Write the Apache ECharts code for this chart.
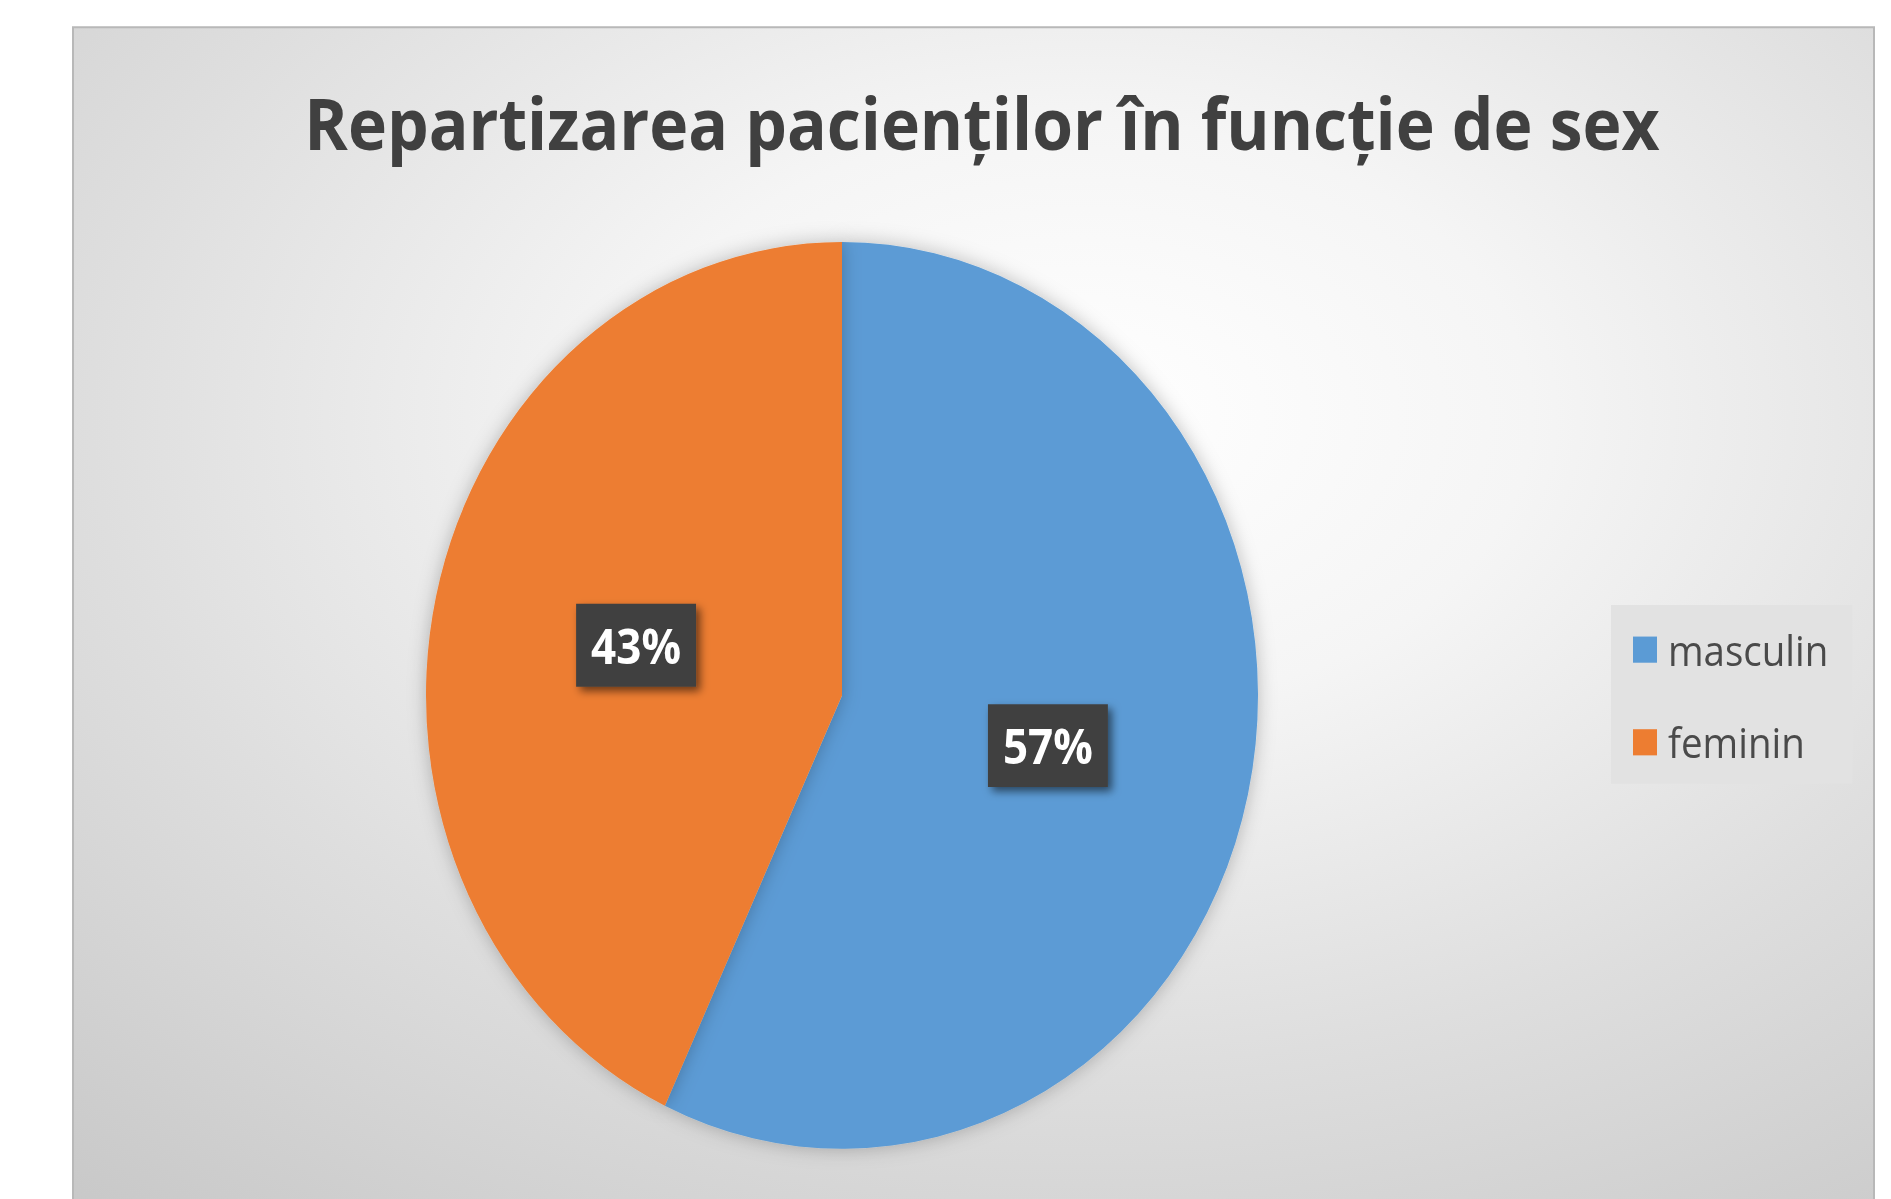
<!DOCTYPE html>
<html>
<head>
<meta charset="utf-8">
<script src="https://cdn.jsdelivr.net/npm/echarts@6/dist/echarts.min.js"></script>
<style>
  html, body { margin: 0; padding: 0; background: #ffffff; overflow: hidden; }
  #wrap { width: 1891px; height: 1199px; overflow: hidden; position: relative; }
  #chart { width: 1891px; height: 1100px; transform: scaleY(1.09); transform-origin: 0 0; }
</style>
</head>
<body>
<div id="wrap"><div id="chart"></div></div>
<script>
// ---- data ----
const titleText = 'Repartizarea pacienților în funcție de sex';
const categories = ['masculin', 'feminin'];
const percentages = [57, 43];
const sliceColors = ['#5B9BD5', '#ED7D31'];

const chart = echarts.init(document.getElementById('chart'), null, { renderer: 'svg' });

const pieData = categories.map((name, i) => ({
  name: name,
  value: percentages[i],
  itemStyle: { color: sliceColors[i] }
}));

const option = {
  backgroundColor: 'transparent',
  animation: false,
  graphic: [{
    type: 'rect',
    left: 72,
    top: 24,
    z: -10,
    silent: true,
    shape: { width: 1801, height: 1080 },
    style: {
      fill: {
        type: 'radial', x: 0.56, y: 0.33, r: 1.0,
        colorStops: [
          { offset: 0, color: '#ffffff' },
          { offset: 0.25, color: '#f5f5f5' },
          { offset: 0.55, color: '#dedede' },
          { offset: 0.8, color: '#cdcdcd' },
          { offset: 1, color: '#c0c0c0' }
        ]
      },
      stroke: '#b8b8b8',
      lineWidth: 2
    }
  }],
  title: {
    text: titleText,
    left: 977,
    top: 73,
    textAlign: 'center',
    textStyle: {
      fontFamily: '"Open Sans", sans-serif',
      fontWeight: 'bold',
      fontSize: 66,
      lineHeight: 68,
      color: '#404040'
    }
  },
  legend: {
    orient: 'vertical',
    left: 1611,
    top: 555,
    padding: [21, 24, 18, 22],
    backgroundColor: '#e2e2e2',
    icon: 'rect',
    itemWidth: 24,
    itemHeight: 24,
    itemGap: 45,
    data: categories,
    textStyle: {
      fontFamily: '"Open Sans", sans-serif',
      fontSize: 38.5,
      lineHeight: 40,
      color: '#4a4a4a',
      padding: [0, 0, 0, 6]
    }
  },
  series: [{
    type: 'pie',
    center: [842, 638],
    radius: 416,
    startAngle: 90,
    clockwise: true,
    silent: true,
    data: pieData,
    itemStyle: {
      shadowBlur: 18,
      shadowColor: 'rgba(0,0,0,0.25)'
    },
    label: {
      show: true,
      position: 'inside',
      formatter: p => Math.round(p.percent) + '%',
      fontFamily: '"Open Sans", sans-serif',
      fontWeight: 'bold',
      fontSize: 44,
      lineHeight: 44,
      color: '#ffffff',
      backgroundColor: '#404040',
      padding: [16, 15, 16, 15],
      shadowColor: 'rgba(0,0,0,0.55)',
      shadowBlur: 8,
      shadowOffsetX: 4,
      shadowOffsetY: 4
    },
    labelLine: { show: false },
    emphasis: { disabled: true }
  }]
};
chart.setOption(option);
</script>
</body>
</html>
